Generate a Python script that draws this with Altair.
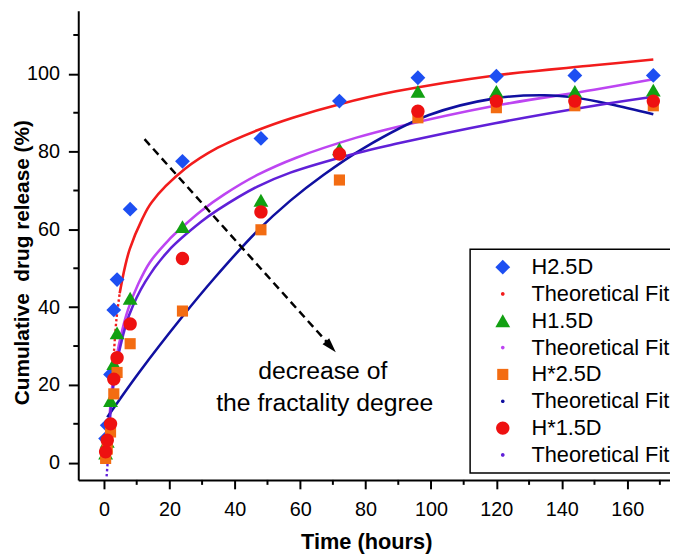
import altair as alt
import pandas as pd

# ---- measured data ----
times = [0.5, 1, 2, 3, 4, 8, 24, 48, 72, 96, 120, 144, 168]
h25 = [6.2, 9.6, 22.7, 39.3, 47.1, 65.2, 77.5, 83.4, 93.0, 99.0, 99.4, 99.6, 99.6]
h15 = [2.5, 5.5, 16.0, 25.5, 33.4, 42.3, 60.7, 67.5, 80.7, 95.5, 95.5, 95.5, 95.8]
hs25 = [1.1, 3.5, 7.9, 17.7, 23.2, 30.6, 39.0, 59.9, 72.7, 88.7, 91.3, 91.8, 91.8]
hs15 = [2.8, 5.8, 10.0, 21.5, 27.0, 35.7, 52.5, 64.5, 79.4, 90.4, 93.0, 93.0, 93.0]

# theoretical fits
fit1_dot_t = [2.8, 3.1, 3.8, 4.8]
fit1_dot_y = [24.9, 29.1, 36.8, 43.6]
fit1_t = [4.8, 6.4, 7.9, 11.6, 14.6, 24.7, 34.8, 46.9, 58, 72.1, 89.3, 119.6, 149.9, 168]
fit1_y = [43.6, 50.3, 55.0, 62.5, 67.0, 75.5, 81.0, 85.5, 88.8, 92.2, 95.5, 99.6, 102.2, 103.7]

fit2_t = [1.3, 1.8, 2.5, 3.8, 5.4, 7.4, 10.5, 14.0, 19.7, 24.5, 29.8, 36.8, 46.9, 59, 77.2, 89.3, 119.6, 149.9, 168]
fit2_y = [6.2, 13.0, 19.5, 27.0, 33.5, 39.5, 46.0, 51.5, 57.2, 61.0, 64.8, 69.0, 74.0, 78.5, 83.6, 86.3, 91.8, 95.9, 98.6]

fit3_t = [1.0, 10.9, 24, 33.8, 46.9, 57, 67.1, 79.2, 99.4, 119.6, 134.7, 144.8, 154.9, 168]
fit3_y = [11.7, 23.4, 37.6, 47.5, 59.6, 67.4, 74.0, 80.8, 89.4, 93.7, 94.5, 93.8, 92.2, 89.6]

fit4_dot_t = [0.8, 1.1, 1.4]
fit4_dot_y = [-3.5, 0.0, 6.0]
fit4_t = [1.4, 1.9, 2.6, 3.9, 5.6, 7.7, 12.6, 19.7, 29.8, 34.8, 46.9, 57, 77.2, 89.3, 119.6, 149.9, 168]
fit4_y = [6.0, 12.0, 18.0, 25.5, 32.0, 38.0, 46.5, 54.5, 62.0, 65.0, 71.0, 74.6, 79.6, 82.0, 87.3, 91.8, 94.1]

legend_keys = ["H2.5D", "fit1", "H1.5D", "fit2", "H*2.5D", "fit3", "H*1.5D", "fit4"]
legend_colors = ["#1d4ff2", "#f21c1c", "#12a012", "#bd45f2", "#f36c12", "#1010a0", "#ee1111", "#6020d8"]
DOT = "M-0.25,0A0.25,0.25 0 1,0 0.25,0A0.25,0.25 0 1,0 -0.25,0Z"
SQUARE = "M-0.75,-0.75H0.75V0.75H-0.75Z"
CIRCLE = "M-0.9,0A0.9,0.9 0 1,0 0.9,0A0.9,0.9 0 1,0 -0.9,0Z"
legend_shapes = ["diamond", DOT, "triangle-up", DOT, SQUARE, DOT, CIRCLE, DOT]

x_ticks = [0, 20, 40, 60, 80, 100, 120, 140, 160]
y_ticks = [0, 20, 40, 60, 80, 100]
x_minor = [10, 30, 50, 70, 90, 110, 130, 150, 170]
y_minor = [10, 30, 50, 70, 90, 110]

arrow_t = [12.4, 70.0]
arrow_y = [83.2, 29.3]
head_t = [70.9]
head_y = [28.4]
notes_t = [66.9, 67.5]
notes_y = [23.5, 15.4]
notes = ["decrease of", "the fractality degree"]

FONT = "Liberation Sans"

# ---- tables ----
pts = pd.concat([
    pd.DataFrame({"t": times, "v": vals, "key": k})
    for vals, k in [(h25, "H2.5D"), (h15, "H1.5D"), (hs25, "H*2.5D"), (hs15, "H*1.5D")]
], ignore_index=True)

fits = pd.concat([
    pd.DataFrame({"t": fit1_t, "v": fit1_y, "seg": "f1", "col": "#f21c1c"}),
    pd.DataFrame({"t": fit2_t, "v": fit2_y, "seg": "f2", "col": "#bd45f2"}),
    pd.DataFrame({"t": fit3_t, "v": fit3_y, "seg": "f3", "col": "#1010a0"}),
    pd.DataFrame({"t": fit4_t, "v": fit4_y, "seg": "f4", "col": "#6020d8"}),
], ignore_index=True)
dots = pd.concat([
    pd.DataFrame({"t": fit1_dot_t, "v": fit1_dot_y, "seg": "d1", "col": "#f21c1c"}),
    pd.DataFrame({"t": fit4_dot_t, "v": fit4_dot_y, "seg": "d4", "col": "#6020d8"}),
], ignore_index=True)

xscale = alt.Scale(domain=[-7.87, 173.1], nice=False, zero=False)
yscale = alt.Scale(domain=[-4.43, 116.2], nice=False, zero=False)
xaxis = alt.Axis(values=x_ticks, title="Time (hours)", grid=False, tickSize=9, tickWidth=2,
                 domainWidth=2, domainColor="black", tickColor="black",
                 labelFont=FONT, labelFontSize=20, labelColor="black", labelPadding=11,
                 titleFont=FONT, titleFontSize=22, titleFontWeight="bold", titleColor="black",
                 titlePadding=12, titleX=291)
yaxis = alt.Axis(values=y_ticks, title="Cumulative\u00a0 drug release (%)", grid=False, tickSize=10,
                 tickWidth=2, domainWidth=2, domainColor="black", tickColor="black",
                 labelFont=FONT, labelFontSize=20, labelColor="black", labelPadding=9,
                 titleFont=FONT, titleFontSize=21, titleFontWeight="bold", titleColor="black",
                 titleX=-46, titleY=254)

def X(field):
    return alt.X(f"{field}:Q", scale=xscale, axis=xaxis)

def Y(field):
    return alt.Y(f"{field}:Q", scale=yscale, axis=yaxis)

lines = alt.Chart(fits).mark_line(strokeWidth=2.6, interpolate="catmull-rom").encode(
    x=X("t"), y=Y("v"), detail="seg:N", color=alt.Color("col:N", scale=None))
dotted = alt.Chart(dots).mark_line(strokeWidth=2.4, strokeDash=[2.5, 2.5], interpolate="catmull-rom").encode(
    x=X("t"), y=Y("v"), detail="seg:N", color=alt.Color("col:N", scale=None))

points = alt.Chart(pts).mark_point(filled=True, size=225, opacity=1, strokeWidth=0).encode(
    x=X("t"), y=Y("v"),
    color=alt.Color("key:N", scale=alt.Scale(domain=legend_keys, range=legend_colors),
                    legend=alt.Legend(
                        title=None, orient="none", legendX=396, legendY=241,
                        strokeColor="black", fillColor="white", padding=7,
                        symbolOffset=15, labelOffset=18, symbolSize=225,
                        rowPadding=5.1, labelFont=FONT, labelFontSize=22, labelColor="black",
                        labelLimit=300, symbolStrokeWidth=0,
                        labelExpr="indexof(datum.label, 'fit') == 0 ? 'Theoretical Fit' : datum.label")),
    shape=alt.Shape("key:N", scale=alt.Scale(domain=legend_keys, range=legend_shapes)),
    order=alt.Order("idx:Q"),
).transform_calculate(idx="datum.key == 'H2.5D' ? 0 : datum.key == 'H1.5D' ? 1 : datum.key == 'H*2.5D' ? 2 : 3")

xminor = alt.Chart(pd.DataFrame({"m": x_minor})).mark_rule(color="black", strokeWidth=2).encode(
    x=X("m"), y=alt.value(474), y2=alt.value(479))
yminor = alt.Chart(pd.DataFrame({"m": y_minor})).mark_rule(color="black", strokeWidth=2).encode(
    y=Y("m"), x=alt.value(-5), x2=alt.value(0))

arrow = alt.Chart(pd.DataFrame({"t": arrow_t, "v": arrow_y})).mark_line(
    color="black", strokeWidth=2.5, strokeDash=[8, 5]).encode(x=X("t"), y=Y("v"))
head = alt.Chart(pd.DataFrame({"t": head_t, "v": head_y})).mark_point(
    shape="M0,0L0.45,1.5L-0.45,1.5Z", filled=True, color="black", size=400, angle=138, opacity=1).encode(
    x=X("t"), y=Y("v"))
text = alt.Chart(pd.DataFrame({"t": notes_t, "v": notes_y, "s": notes})).mark_text(
    font=FONT, fontSize=25, color="black", align="center", baseline="middle").encode(
    x=X("t"), y=Y("v"), text="s:N")

chart = alt.layer(xminor, yminor, lines, dotted, arrow, head, text, points).properties(
    width=598, height=474,
    padding={"left": 71, "top": 0, "right": 0, "bottom": 75},
    autosize=alt.AutoSizeParams(type="none"),
    background="white",
).configure_view(stroke=None).configure_legend(strokeWidth=1.5)

chart.save("out.html", embed_options={"renderer": "svg", "actions": False})
